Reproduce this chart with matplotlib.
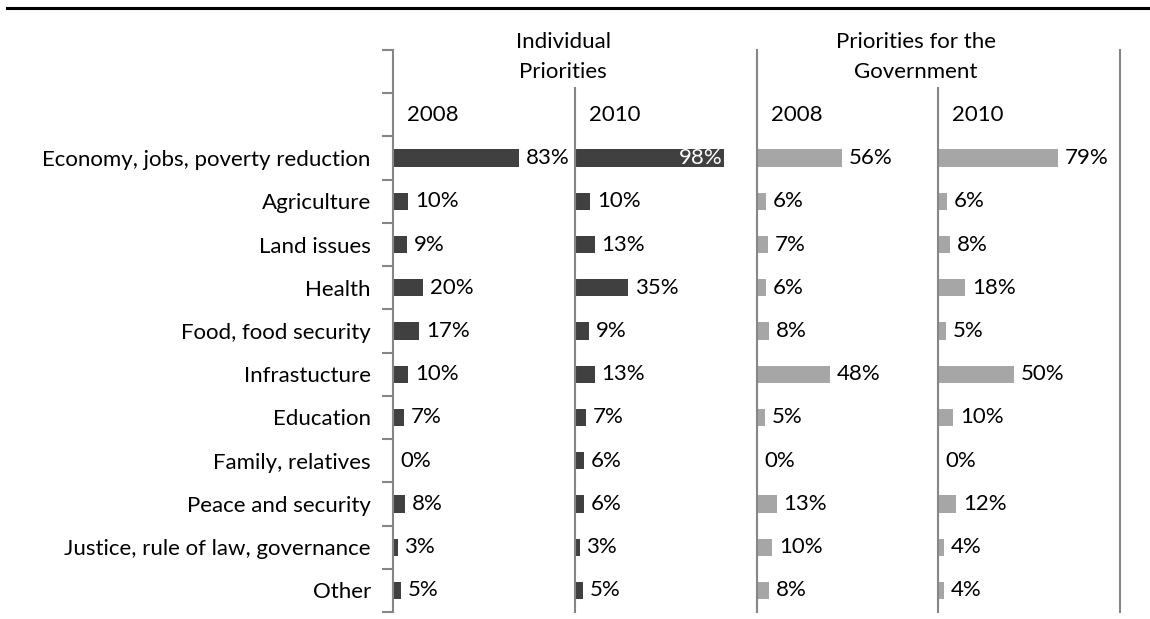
import matplotlib
matplotlib.use("Agg")
import matplotlib.pyplot as plt
from matplotlib.lines import Line2D

plt.rcParams['font.family'] = ['Lato', 'DejaVu Sans']

categories = ["Economy, jobs, poverty reduction", "Agriculture", "Land issues", "Health",
              "Food, food security", "Infrastucture", "Education", "Family, relatives",
              "Peace and security", "Justice, rule of law, governance", "Other"]
indiv_2008 = [83, 10, 9, 20, 17, 10, 7, 0, 8, 3, 5]
indiv_2010 = [98, 10, 13, 35, 9, 13, 7, 6, 6, 3, 5]
gov_2008 = [56, 6, 7, 6, 8, 48, 5, 0, 13, 10, 8]
gov_2010 = [79, 6, 8, 18, 5, 50, 10, 0, 12, 4, 4]

series = [indiv_2008, indiv_2010, gov_2008, gov_2010]
years = ["2008", "2010", "2008", "2010"]
colors = ['#404040', '#404040', '#a6a6a6', '#a6a6a6']

W, H = 1150, 619
fig = plt.figure(figsize=(W / 100, H / 100), dpi=100)

# panel geometry in pixels
panel_left = [393, 575, 757, 938]
panel_w = 182
top_px, bot_px = 50, 612
fs = 16
axis_col = '#868686'

y_pos = [i + 2.5 for i in range(len(categories))]

for k, (vals, yr, col) in enumerate(zip(series, years, colors)):
    ax = fig.add_axes([panel_left[k] / W, (H - bot_px) / H, panel_w / W, (bot_px - top_px) / H])
    ax.barh(y_pos, vals, height=0.4, color=col)
    ax.set_xlim(0, 120)
    ax.set_ylim(13, 0)
    ax.set_xticks([])
    for s in ['top', 'bottom', 'right']:
        ax.spines[s].set_visible(False)
    ax.spines['left'].set_color(axis_col)
    ax.spines['left'].set_linewidth(1.5)
    if k in (1, 3):
        ax.spines['left'].set_bounds(0.88, 13)
    if k == 3:
        ax.spines['right'].set_visible(True)
        ax.spines['right'].set_color(axis_col)
        ax.spines['right'].set_linewidth(1.5)

    if k == 0:
        ax.set_yticks(y_pos)
        ax.set_yticklabels(categories, fontsize=fs)
        ax.tick_params(axis='y', which='major', length=0, pad=16)
        ax.set_yticks(range(14), minor=True)
        ax.tick_params(axis='y', which='minor', length=8, width=1.5, color=axis_col)
    else:
        ax.set_yticks([])

    ax.text(9, 1.5, yr, fontsize=fs, va='center', ha='left')

    for y, v in zip(y_pos, vals):
        if v > 90:
            ax.annotate(f"{v}%", (v, y), xytext=(-1, 0), textcoords='offset points',
                        ha='right', va='center', fontsize=fs, color='white')
        else:
            ax.annotate(f"{v}%", (v, y), xytext=(5, 0), textcoords='offset points',
                        ha='left', va='center', fontsize=fs)

# group headers
fig.text(563 / W, 1 - 48 / H, "Individual", ha='center', va='baseline', fontsize=fs)
fig.text(563 / W, 1 - 78 / H, "Priorities", ha='center', va='baseline', fontsize=fs)
fig.text(916 / W, 1 - 48 / H, "Priorities for the", ha='center', va='baseline', fontsize=fs)
fig.text(916 / W, 1 - 78 / H, "Government", ha='center', va='baseline', fontsize=fs)

# rule across the top
fig.add_artist(Line2D([7 / W, 1.0], [1 - 8 / H, 1 - 8 / H], color='black', linewidth=2.2,
                      transform=fig.transFigure))

fig.savefig("out.png", dpi=100)
